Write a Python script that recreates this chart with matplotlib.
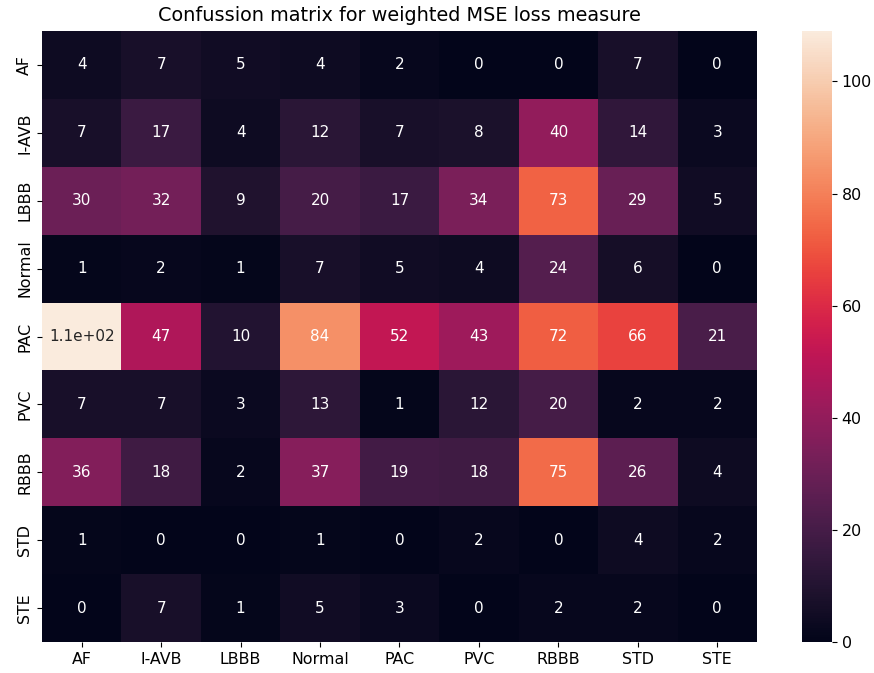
import numpy as np
import matplotlib
matplotlib.use("Agg")
import matplotlib.pyplot as plt
import seaborn as sns

labels = ["AF", "I-AVB", "LBBB", "Normal", "PAC", "PVC", "RBBB", "STD", "STE"]

row_af = [4, 7, 5, 4, 2, 0, 0, 7, 0]
row_iavb = [7, 17, 4, 12, 7, 8, 40, 14, 3]
row_lbbb = [30, 32, 9, 20, 17, 34, 73, 29, 5]
row_normal = [1, 2, 1, 7, 5, 4, 24, 6, 0]
row_pac = [109, 47, 10, 84, 52, 43, 72, 66, 21]
row_pvc = [7, 7, 3, 13, 1, 12, 20, 2, 2]
row_rbbb = [36, 18, 2, 37, 19, 18, 75, 26, 4]
row_std = [1, 0, 0, 1, 0, 2, 0, 4, 2]
row_ste = [0, 7, 1, 5, 3, 0, 2, 2, 0]

cm = np.array([row_af, row_iavb, row_lbbb, row_normal, row_pac,
               row_pvc, row_rbbb, row_std, row_ste])

fig = plt.figure(figsize=(8.74, 6.73), dpi=100)
ax = fig.add_axes([42 / 874, 1 - 642 / 673, (757 - 42) / 874, (642 - 31) / 673])
cax = fig.add_axes([802 / 874, 1 - 642 / 673, 30 / 874, (642 - 31) / 673])

sns.heatmap(cm, annot=True, ax=ax, cbar_ax=cax,
            xticklabels=labels, yticklabels=labels,
            annot_kws={"fontsize": 11})
ax.set_title("Confussion matrix for weighted MSE loss measure", fontsize=13.9, pad=7)
ax.tick_params(labelsize=11.4)
cax.tick_params(labelsize=11.4)

fig.savefig("out.png", dpi=100)
